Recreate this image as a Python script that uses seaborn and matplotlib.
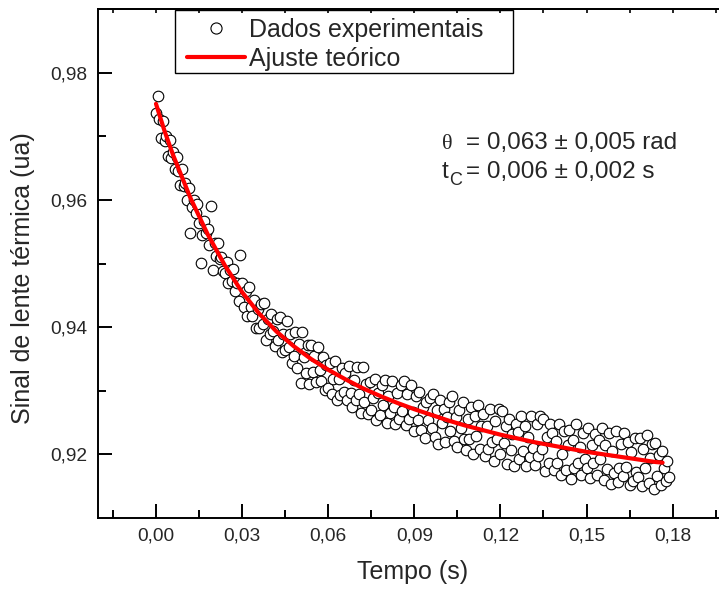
import numpy as np
import pandas as pd
import matplotlib
matplotlib.use("Agg")
import matplotlib.pyplot as plt
import seaborn as sns
from matplotlib.patches import Rectangle
from matplotlib.lines import Line2D
from matplotlib.ticker import FixedLocator, FuncFormatter

# ---------------- data ----------------
tempo_ms = [
    0.0, 0.6, 1.2, 1.8, 2.4, 3.0, 3.6, 4.2, 4.8, 5.4,
    6.0, 6.6, 7.2, 7.8, 8.4, 9.0, 9.6, 10.2, 10.8, 11.4,
    12.0, 12.6, 13.2, 13.8, 14.4, 15.0, 15.6, 16.2, 16.8, 17.4,
    18.0, 18.6, 19.2, 19.8, 20.4, 21.0, 21.6, 22.2, 22.8, 23.4,
    24.0, 24.6, 25.2, 25.8, 26.4, 27.0, 27.6, 28.2, 28.8, 29.4,
    30.0, 30.6, 31.2, 31.8, 32.4, 33.0, 33.6, 34.2, 34.8, 35.4,
    36.0, 36.6, 37.2, 37.8, 38.4, 39.0, 39.6, 40.2, 40.8, 41.4,
    42.0, 42.6, 43.2, 43.8, 44.4, 45.0, 45.6, 46.2, 46.8, 47.4,
    48.0, 48.6, 49.2, 49.8, 50.4, 51.0, 51.6, 52.2, 52.8, 53.4,
    54.0, 54.6, 55.2, 55.8, 56.4, 57.0, 57.6, 58.2, 58.8, 59.4,
    60.0, 60.6, 61.2, 61.8, 62.4, 63.0, 63.6, 64.2, 64.8, 65.4,
    66.0, 66.6, 67.2, 67.8, 68.4, 69.0, 69.6, 70.2, 70.8, 71.4,
    72.0, 72.6, 73.2, 73.8, 74.4, 75.0, 75.6, 76.2, 76.8, 77.4,
    78.0, 78.6, 79.2, 79.8, 80.4, 81.0, 81.6, 82.2, 82.8, 83.4,
    84.0, 84.6, 85.2, 85.8, 86.4, 87.0, 87.6, 88.2, 88.8, 89.4,
    90.0, 90.6, 91.2, 91.8, 92.4, 93.0, 93.6, 94.2, 94.8, 95.4,
    96.0, 96.6, 97.2, 97.8, 98.4, 99.0, 99.6, 100.2, 100.8, 101.4,
    102.0, 102.6, 103.2, 103.8, 104.4, 105.0, 105.6, 106.2, 106.8, 107.4,
    108.0, 108.6, 109.2, 109.8, 110.4, 111.0, 111.6, 112.2, 112.8, 113.4,
    114.0, 114.6, 115.2, 115.8, 116.4, 117.0, 117.6, 118.2, 118.8, 119.4,
    120.0, 120.6, 121.2, 121.8, 122.4, 123.0, 123.6, 124.2, 124.8, 125.4,
    126.0, 126.6, 127.2, 127.8, 128.4, 129.0, 129.6, 130.2, 130.8, 131.4,
    132.0, 132.6, 133.2, 133.8, 134.4, 135.0, 135.6, 136.2, 136.8, 137.4,
    138.0, 138.6, 139.2, 139.8, 140.4, 141.0, 141.6, 142.2, 142.8, 143.4,
    144.0, 144.6, 145.2, 145.8, 146.4, 147.0, 147.6, 148.2, 148.8, 149.4,
    150.0, 150.6, 151.2, 151.8, 152.4, 153.0, 153.6, 154.2, 154.8, 155.4,
    156.0, 156.6, 157.2, 157.8, 158.4, 159.0, 159.6, 160.2, 160.8, 161.4,
    162.0, 162.6, 163.2, 163.8, 164.4, 165.0, 165.6, 166.2, 166.8, 167.4,
    168.0, 168.6, 169.2, 169.8, 170.4, 171.0, 171.6, 172.2, 172.8, 173.4,
    174.0, 174.6, 175.2, 175.8, 176.4, 177.0, 177.6, 178.2, 178.8,
]

sinal = [
    0.9736, 0.9763, 0.9727, 0.9697, 0.9724, 0.9693, 0.9700, 0.9669, 0.9694, 0.9666,
    0.9676, 0.9649, 0.9667, 0.9646, 0.9623, 0.9649, 0.9622, 0.9626, 0.9600, 0.9619,
    0.9548, 0.9589, 0.9600, 0.9580, 0.9594, 0.9563, 0.9501, 0.9545, 0.9567, 0.9548,
    0.9554, 0.9529, 0.9590, 0.9490, 0.9532, 0.9512, 0.9532, 0.9507, 0.9510, 0.9488,
    0.9485, 0.9503, 0.9469, 0.9489, 0.9472, 0.9492, 0.9457, 0.9470, 0.9441, 0.9513,
    0.9470, 0.9432, 0.9456, 0.9417, 0.9463, 0.9432, 0.9417, 0.9443, 0.9398, 0.9428,
    0.9399, 0.9436, 0.9405, 0.9438, 0.9380, 0.9413, 0.9389, 0.9421, 0.9394, 0.9370,
    0.9413, 0.9379, 0.9416, 0.9361, 0.9389, 0.9364, 0.9409, 0.9369, 0.9389, 0.9344,
    0.9355, 0.9393, 0.9336, 0.9374, 0.9312, 0.9392, 0.9353, 0.9328, 0.9372, 0.9310,
    0.9372, 0.9330, 0.9355, 0.9313, 0.9369, 0.9332, 0.9316, 0.9353, 0.9301, 0.9340,
    0.9305, 0.9344, 0.9295, 0.9319, 0.9347, 0.9286, 0.9319, 0.9293, 0.9336, 0.9298,
    0.9328, 0.9285, 0.9339, 0.9296, 0.9274, 0.9317, 0.9285, 0.9338, 0.9295, 0.9265,
    0.9338, 0.9283, 0.9310, 0.9264, 0.9314, 0.9270, 0.9289, 0.9318, 0.9254, 0.9297,
    0.9262, 0.9309, 0.9278, 0.9317, 0.9250, 0.9292, 0.9265, 0.9316, 0.9275, 0.9248,
    0.9296, 0.9255, 0.9309, 0.9268, 0.9315, 0.9246, 0.9295, 0.9256, 0.9309, 0.9267,
    0.9236, 0.9292, 0.9254, 0.9298, 0.9239, 0.9275, 0.9226, 0.9283, 0.9254, 0.9289,
    0.9242, 0.9295, 0.9228, 0.9269, 0.9216, 0.9286, 0.9249, 0.9271, 0.9219, 0.9258,
    0.9283, 0.9237, 0.9291, 0.9221, 0.9258, 0.9211, 0.9270, 0.9241, 0.9282, 0.9224,
    0.9207, 0.9256, 0.9224, 0.9275, 0.9200, 0.9260, 0.9229, 0.9278, 0.9209, 0.9244,
    0.9263, 0.9197, 0.9245, 0.9208, 0.9271, 0.9220, 0.9189, 0.9253, 0.9224, 0.9272,
    0.9201, 0.9268, 0.9218, 0.9244, 0.9185, 0.9256, 0.9207, 0.9232, 0.9182, 0.9248,
    0.9235, 0.9192, 0.9260, 0.9205, 0.9245, 0.9182, 0.9227, 0.9196, 0.9260, 0.9210,
    0.9184, 0.9247, 0.9198, 0.9260, 0.9209, 0.9255, 0.9174, 0.9228, 0.9187, 0.9247,
    0.9234, 0.9176, 0.9221, 0.9187, 0.9248, 0.9167, 0.9201, 0.9236, 0.9176, 0.9214,
    0.9239, 0.9162, 0.9223, 0.9178, 0.9247, 0.9187, 0.9211, 0.9168, 0.9233, 0.9193,
    0.9179, 0.9242, 0.9163, 0.9215, 0.9187, 0.9232, 0.9167, 0.9223, 0.9193, 0.9242,
    0.9160, 0.9215, 0.9177, 0.9234, 0.9153, 0.9206, 0.9170, 0.9237, 0.9157, 0.9178,
    0.9216, 0.9166, 0.9233, 0.9180, 0.9219, 0.9152, 0.9204, 0.9158, 0.9225, 0.9172,
    0.9164, 0.9226, 0.9151, 0.9209, 0.9178, 0.9230, 0.9155, 0.9194, 0.9217, 0.9146,
    0.9218, 0.9166, 0.9199, 0.9152, 0.9206, 0.9178, 0.9158, 0.9190, 0.9165,
]

tempo_ajuste = [0.000, 0.003, 0.006, 0.012, 0.018, 0.024, 0.030, 0.036, 0.042,
                0.048, 0.054, 0.060, 0.066, 0.072, 0.078, 0.084, 0.090, 0.096,
                0.102, 0.108, 0.114, 0.120, 0.126, 0.132, 0.138, 0.144, 0.150,
                0.156, 0.162, 0.168, 0.174, 0.1765]
sinal_ajuste = [0.9751, 0.9708, 0.9670, 0.9603, 0.9546, 0.9497, 0.9455, 0.9421,
                0.9393, 0.9370, 0.9350, 0.9333, 0.9318, 0.9304, 0.9292, 0.9281,
                0.9271, 0.9262, 0.9253, 0.9245, 0.9238, 0.9231, 0.9225, 0.9219,
                0.9214, 0.9209, 0.9204, 0.9200, 0.9196, 0.9192, 0.9188, 0.9187]

xticks = [0.00, 0.03, 0.06, 0.09, 0.12, 0.15, 0.18]
xminor = [-0.015, 0.015, 0.045, 0.075, 0.105, 0.135, 0.165, 0.195]
yticks = [0.92, 0.94, 0.96, 0.98]
yminor = [0.93, 0.95, 0.97]

legend_labels = ["Dados experimentais", "Ajuste teórico"]
xlabel = "Tempo (s)"
ylabel = "Sinal de lente térmica (ua)"

# ---------------- figure ----------------
sns.set_theme(style="ticks")
plt.rcParams['font.family'] = ['Liberation Sans', 'DejaVu Sans']

W, H = 719, 589
fig = plt.figure(figsize=(W / 100, H / 100), dpi=100)
ax = fig.add_axes([98 / W, 1 - 518 / H, (720 - 98) / W, (518 - 9) / H])

df = pd.DataFrame({"tempo": np.array(tempo_ms) / 1000.0, "sinal": sinal})
sns.scatterplot(data=df, x="tempo", y="sinal", ax=ax, marker="o", s=58,
                color="white", edgecolor="black", linewidth=0.8, zorder=2,
                legend=False)
sns.lineplot(x=tempo_ajuste, y=sinal_ajuste, ax=ax, color="#ff0000",
             linewidth=3, sort=False, estimator=None, zorder=3)

ax.set_xlim(-0.0202, 0.1965)
ax.set_ylim(0.910, 0.990)
ax.set_xticks(xticks)
ax.set_yticks(yticks)
ax.xaxis.set_minor_locator(FixedLocator(xminor))
ax.yaxis.set_minor_locator(FixedLocator(yminor))
fmt = FuncFormatter(lambda v, p: f"{v:.2f}".replace(".", ","))
ax.xaxis.set_major_formatter(fmt)
ax.yaxis.set_major_formatter(fmt)
ax.tick_params(which="major", direction="in", length=10, width=1.4,
               labelsize=13.8, top=False, right=False, color="black")
ax.tick_params(which="minor", direction="in", length=6, width=1.4,
               top=False, right=False, color="black")
ax.tick_params(axis="x", pad=6.5)
ax.tick_params(axis="y", pad=7.5)
ax.set_xlabel("")
ax.set_ylabel("")
ax.grid(False)
for s in ["left", "bottom", "top"]:
    ax.spines[s].set_linewidth(1.4)
    ax.spines[s].set_color("black")
ax.spines["right"].set_visible(False)

sec = ax.secondary_xaxis("top")
sec.set_xticks(xticks)
sec.xaxis.set_minor_locator(FixedLocator(xminor))
sec.tick_params(which="both", direction="in", length=3, width=1.2,
                labeltop=False, color="black")
sec.spines["top"].set_linewidth(1.4)

# axis labels
fig.text(413 / W, 1 - 572 / H, xlabel, fontsize=18, ha="center", va="center")
fig.text(23 / W, 1 - 278 / H, ylabel, fontsize=18, ha="center", va="center",
         rotation=90)

# legend
handles = [
    Line2D([], [], marker="o", linestyle="none", markerfacecolor="white",
           markeredgecolor="black", markersize=8, markeredgewidth=0.8),
    Line2D([], [], color="#ff0000", linewidth=3),
]
fig.legend(handles, legend_labels, loc="upper left",
           bbox_to_anchor=(187 / W, 1 - 18 / H), frameon=False, fontsize=18,
           borderpad=0, borderaxespad=0, handlelength=2.32,
           handletextpad=0.16, labelspacing=0.2)
fig.patches.append(Rectangle((175 / W, 1 - 73 / H), (513 - 175) / W,
                             (73 - 10) / H, transform=fig.transFigure,
                             fill=False, edgecolor="black", linewidth=1.0))

# annotations
fig.text(442 / W, 1 - 149 / H, "θ", fontsize=16, family="Liberation Serif",
         ha="left", va="baseline")
fig.text(466 / W, 1 - 149 / H, "= 0,063 ± 0,005 rad", fontsize=17.5,
         ha="left", va="baseline")
fig.text(442 / W, 1 - 178 / H, "t", fontsize=17.5, ha="left", va="baseline")
fig.text(449 / W, 1 - 185 / H, "C", fontsize=13, ha="left", va="baseline")
fig.text(466 / W, 1 - 178 / H, "= 0,006 ± 0,002 s", fontsize=17.5,
         ha="left", va="baseline")

fig.savefig("out.png", dpi=100)
